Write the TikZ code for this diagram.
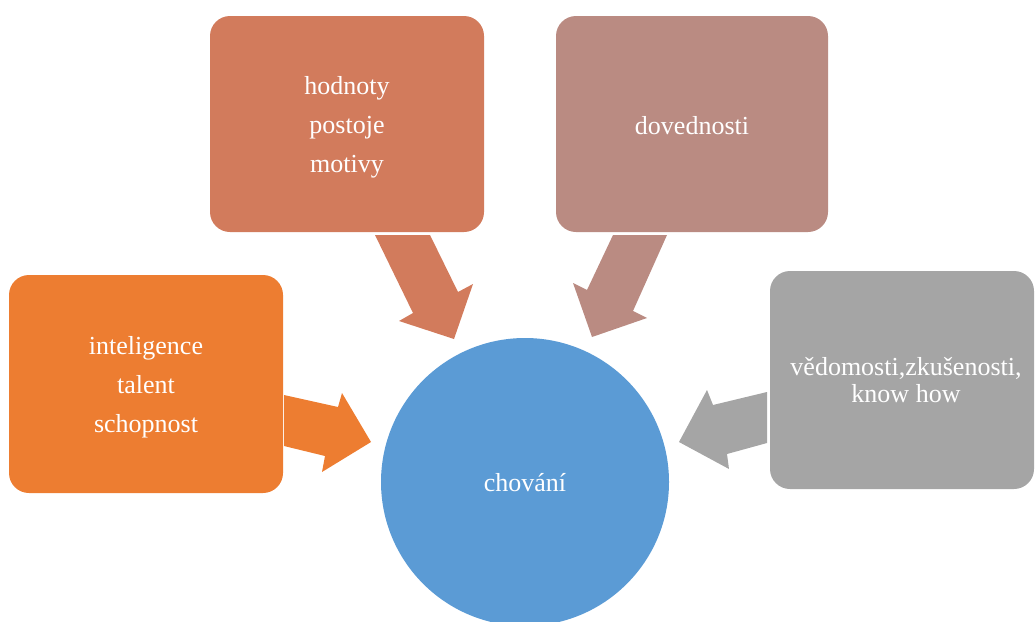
\documentclass[tikz,border=0pt]{standalone}
\usepackage{fontspec}
\setmainfont{Liberation Serif}
\definecolor{cOrange}{HTML}{ED7D31}
\definecolor{cRust}{HTML}{D27B5C}
\definecolor{cRose}{HTML}{BA8B82}
\definecolor{cGray}{HTML}{A5A5A5}
\definecolor{cBlue}{HTML}{5B9BD5}
\begin{document}
\begin{tikzpicture}[x=1pt,y=-1pt,
  boxbg/.style={rounded corners=20pt},
  lbl/.style={text=white, align=center, font=\fontsize{26}{39}\selectfont}]
\useasboundingbox (0,0) rectangle (1035,621);
% boxes
\fill[cOrange, boxbg] (9,275) rectangle (283,493);
\fill[cRust, boxbg] (210,16) rectangle (484,232);
\fill[cRose, boxbg] (556,16) rectangle (828,232);
\fill[cGray, boxbg] (770,271) rectangle (1034,489);
\node[lbl] (intel) at (146,387) {inteligence\\talent\\schopnost};
\node[lbl] (hodn) at (347,127) {hodnoty\\postoje\\motivy};
\node[lbl] (dov) at (692,126) {dovednosti};
\node[lbl, font=\fontsize{26}{27}\selectfont] (ved) at (906,380) {vědomosti,zkušenosti,\\know how};
% circle
\fill[cBlue] (525,482) circle (144);
\node[lbl] (chov) at (525,483) {chování};
% arrows
\fill[cOrange] (284,395) -- (338,407) -- (342,393) -- (371,442) -- (322,472) -- (325,456) -- (284,446) -- cycle;
\fill[cRust] (375,235) -- (430,235) -- (458,292) -- (473,284) -- (454,339) -- (399,321) -- (413,313) -- cycle;
\fill[cRose] (613,235) -- (667,235) -- (633,311) -- (647,318) -- (592,337) -- (573,283) -- (587,290) -- cycle;
\fill[cGray] (767,392) -- (713,405) -- (707,390) -- (679,442) -- (729,469) -- (727,454) -- (767,443) -- cycle;
\end{tikzpicture}
\end{document}
